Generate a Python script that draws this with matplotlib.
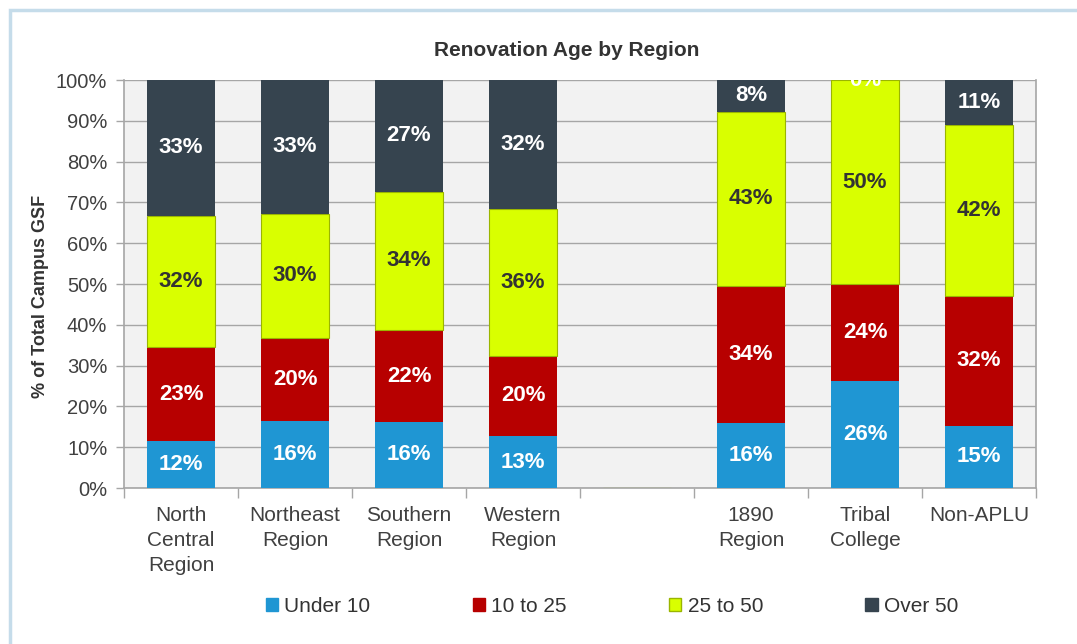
import matplotlib
matplotlib.use("Agg")
import matplotlib.pyplot as plt
from matplotlib.patches import Rectangle, Patch
import numpy as np

plt.rcParams['font.family'] = ['Liberation Sans', 'DejaVu Sans']

categories = ["North\nCentral\nRegion", "Northeast\nRegion", "Southern\nRegion", "Western\nRegion",
              "", "1890\nRegion", "Tribal\nCollege", "Non-APLU"]
series_names = ["Under 10", "10 to 25", "25 to 50", "Over 50"]
under_10 = [11.5, 16.4, 16.2, 12.7, np.nan, 15.9, 26.2, 15.2]
to_25 = [23.0, 20.4, 22.5, 19.7, np.nan, 33.6, 23.8, 31.9]
to_50 = [32.2, 30.4, 33.9, 36.0, np.nan, 42.7, 50.0, 41.9]
over_50 = [33.3, 32.8, 27.4, 31.6, np.nan, 7.8, 0.0, 11.0]

colors = ["#1f96d3", "#b70000", "#d9ff00", "#36444f"]
edgecolors = ["none", "none", "#9ab500", "none"]
label_colors = ["white", "white", "#333333", "white"]

W, H = 1077, 644
fig = plt.figure(figsize=(W / 100, H / 100), dpi=100)
fig.patch.set_facecolor("white")

# light blue frame
fig.patches.append(Rectangle((10 / W, -0.1), 1.2, (H - 10) / H + 0.1, transform=fig.transFigure,
                             fill=False, edgecolor="#c5dcea", linewidth=2.5, zorder=0))

ax = fig.add_axes([124 / W, 1 - 488 / H, (1036 - 124) / W, (488 - 80) / H])
ax.set_facecolor("#f2f2f2")

x = np.arange(len(categories))
bottom = np.zeros(len(categories))
data = [under_10, to_25, to_50, over_50]
for vals, c, ec, lc, name in zip(data, colors, edgecolors, label_colors, series_names):
    v = np.array(vals, dtype=float)
    vv = np.nan_to_num(v)
    ax.bar(x, vv, 0.6, bottom=bottom, color=c, edgecolor=ec, linewidth=0.8, zorder=3, label=name)
    for xi, val, b in zip(x, v, bottom):
        if np.isnan(val):
            continue
        ax.text(xi, b + val / 2, f"{val:.0f}%", ha="center", va="center", color=lc,
                fontsize=16, fontweight="bold", zorder=4, clip_on=True)
    bottom = bottom + vv

ax.set_xlim(-0.5, len(categories) - 0.5)
ax.set_ylim(0, 100)
ax.set_yticks(np.arange(0, 101, 10))
ax.set_yticklabels([f"{t}%" for t in range(0, 101, 10)], fontsize=14.5, color="#404040")
ax.yaxis.grid(True, color="#a6a6a6", linewidth=1.0, zorder=0)
ax.set_axisbelow(True)

ax.set_xticks(x)
ax.set_xticklabels(categories, fontsize=15, color="#404040", linespacing=1.4)
ax.set_xticks(np.arange(-0.5, len(categories), 1), minor=True)
ax.tick_params(axis="x", which="major", length=0, pad=13)
ax.tick_params(axis="x", which="minor", length=7, color="#a6a6a6", width=1)
ax.tick_params(axis="y", length=6, color="#a6a6a6", width=1, pad=6)

for s in ["left", "bottom", "right"]:
    ax.spines[s].set_color("#a6a6a6")
    ax.spines[s].set_linewidth(1.2)
ax.spines["top"].set_visible(False)

ax.set_ylabel("% of Total Campus GSF", fontsize=13, fontweight="bold", color="#333333", labelpad=10)
ax.yaxis.set_label_coords(-0.082, 0.47)
fig.text(567 / W, 1 - 50 / H, "Renovation Age by Region", ha="center", va="center",
         fontsize=15, fontweight="bold", color="#333333")

handles = [Patch(facecolor=c, edgecolor=(ec if ec != "none" else c)) for c, ec in zip(colors, edgecolors)]
fig.legend(handles, series_names, loc="center", bbox_to_anchor=(612 / W, 1 - 606 / H), ncol=4,
           frameon=False, fontsize=15, handlelength=0.6, handleheight=0.6, handletextpad=0.3,
           columnspacing=4.9, labelcolor="#333333")

fig.savefig("out.png", dpi=100)
